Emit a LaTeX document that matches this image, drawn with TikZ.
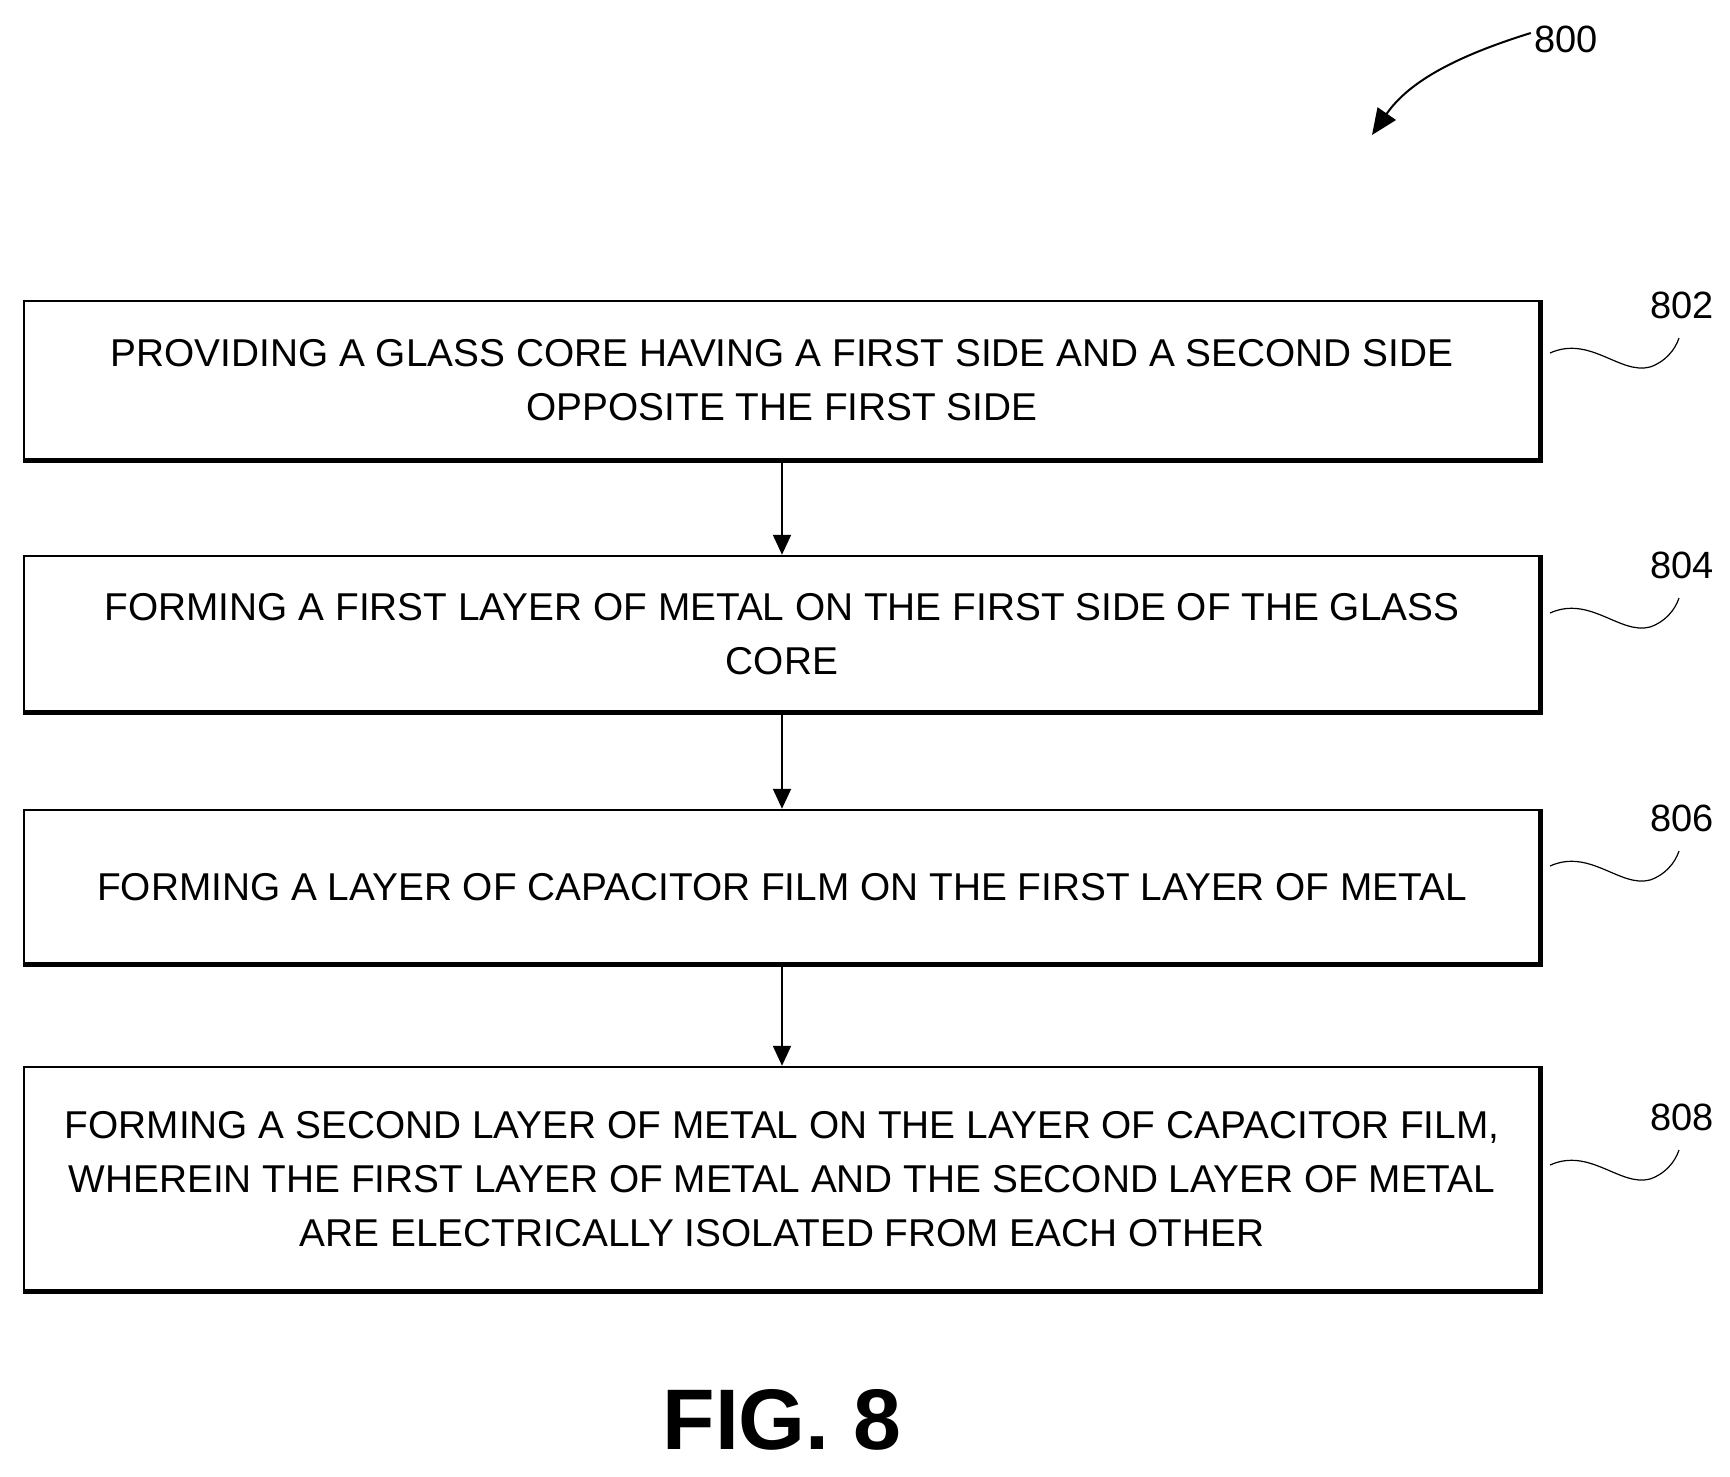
\documentclass[tikz,border=0pt]{standalone}
\usepackage{fontspec}
\setmainfont{Liberation Sans}
\usetikzlibrary{arrows.meta}
\begin{document}
\begin{tikzpicture}[x=1pt,y=-1pt,
  box/.style={draw,line width=2.5pt,minimum width=1516pt,align=center,font=\fontsize{38.8}{54}\selectfont,inner sep=0pt},
  conn/.style={line width=2pt,-{Triangle[length=20pt,width=18pt]}},
  lbl/.style={font=\fontsize{38}{40}\selectfont},
  sq/.style={line width=1.2pt}]
\useasboundingbox (0,0) rectangle (1730,1476);
\node[box,minimum height=159pt] (b1) at (782,380.5) {PROVIDING A GLASS CORE HAVING A FIRST SIDE AND A SECOND SIDE\\OPPOSITE THE FIRST SIDE};
\node[box,minimum height=156pt] (b2) at (782,634) {FORMING A FIRST LAYER OF METAL ON THE FIRST SIDE OF THE GLASS\\CORE};
\node[box,minimum height=154pt] (b3) at (782,887) {FORMING A LAYER OF CAPACITOR FILM ON THE FIRST LAYER OF METAL};
\node[box,minimum height=224pt] (b4) at (782,1179) {FORMING A SECOND LAYER OF METAL ON THE LAYER OF CAPACITOR FILM,\\WHEREIN THE FIRST LAYER OF METAL AND THE SECOND LAYER OF METAL\\ARE ELECTRICALLY ISOLATED FROM EACH OTHER};
\foreach \b in {b1,b2,b3,b4}{
  \draw[line width=5pt] ([xshift=-1pt]\b.north east) -- ([xshift=-1pt,yshift=1pt]\b.south east) -- ([yshift=1pt]\b.south west);}
\draw[conn] (b1) -- (b2);
\draw[conn] (b2) -- (b3);
\draw[conn] (b3) -- (b4);
\node[font=\bfseries\fontsize{86}{86}\selectfont] (fig) at (782,1420) {FIG. 8};
\node[lbl] (n800) at (1566,39) {800};
\coordinate (a800) at (1372,135);
\draw[line width=2pt,-{Triangle[length=26pt,width=22pt]}] ([yshift=6pt]n800.west) .. controls (1460,55) and (1410,80) .. (a800);
\foreach \n/\y in {802/305,804/565,806/818,808/1117}{
  \node[lbl] (n\n) at (1682,\y) {\n};
  \coordinate (s\n) at (1550,\y+48);
  \draw[sq] (s\n) .. controls (1590,\y+30) and (1620,\y+70) .. (1650,\y+62) .. controls (1665,\y+57) and (1675,\y+45) .. (1679,\y+33);
}
\end{tikzpicture}
\end{document}
